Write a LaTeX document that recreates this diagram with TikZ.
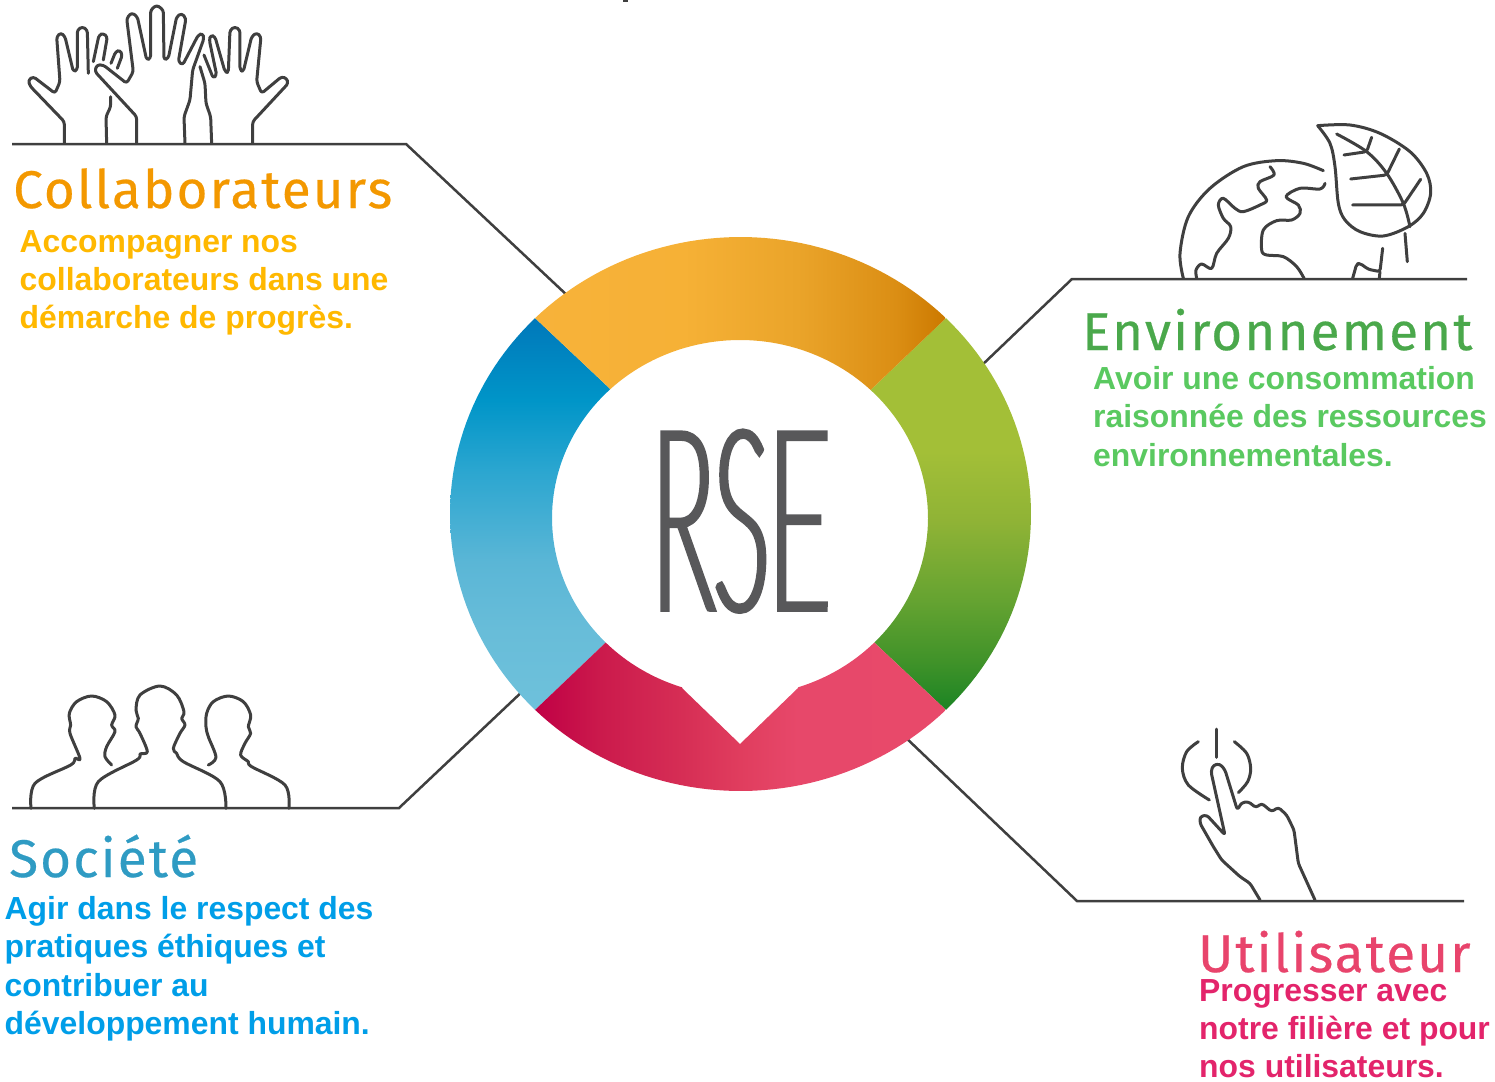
\documentclass[tikz,border=0pt]{standalone}
\usepackage{fontspec}
\setmainfont{Liberation Sans}
\newfontfamily\headfont[LetterSpace=4,FakeBold=0.4]{Fira Sans}
\newfontfamily\rsefont[FakeStretch=0.42,FakeBold=3.2]{Lato Hairline}
\definecolor{inkline}{HTML}{3F3F3F}
\definecolor{rsegray}{HTML}{58585A}
\definecolor{orhead}{HTML}{F39800}
\definecolor{orbody}{HTML}{FFB800}
\definecolor{grhead}{HTML}{4AA84B}
\definecolor{grbody}{HTML}{5AC960}
\definecolor{blhead}{HTML}{2F9BC3}
\definecolor{blbody}{HTML}{009EE8}
\definecolor{rdhead}{HTML}{E8446C}
\definecolor{rdbody}{HTML}{E3246B}
\definecolor{orA}{RGB}{247,178,58}\definecolor{orB}{RGB}{246,177,54}\definecolor{orC}{RGB}{234,164,42}\definecolor{orD}{RGB}{219,142,20}\definecolor{orE}{RGB}{204,121,0}
\definecolor{rdA}{RGB}{192,0,69}\definecolor{rdB}{RGB}{203,26,76}\definecolor{rdC}{RGB}{214,46,85}\definecolor{rdD}{RGB}{224,61,94}\definecolor{rdE}{RGB}{231,72,106}\definecolor{rdF}{RGB}{232,73,106}
\definecolor{blA}{RGB}{110,193,219}\definecolor{blB}{RGB}{104,189,217}\definecolor{blC}{RGB}{90,182,214}\definecolor{blD}{RGB}{43,166,208}\definecolor{blE}{RGB}{0,149,200}\definecolor{blF}{RGB}{0,120,186}
\definecolor{grA}{RGB}{27,132,36}\definecolor{grB}{RGB}{63,146,41}\definecolor{grC}{RGB}{101,163,49}\definecolor{grD}{RGB}{143,179,54}\definecolor{grE}{RGB}{163,191,55}
\pgfdeclarehorizontalshading{orshade}{100bp}{
  color(0bp)=(orA); color(25bp)=(orA); color(43bp)=(orB); color(57bp)=(orC); color(69bp)=(orD); color(75bp)=(orE); color(100bp)=(orE)}
\pgfdeclarehorizontalshading{rdshade}{100bp}{
  color(0bp)=(rdA); color(25bp)=(rdA); color(33bp)=(rdB); color(43bp)=(rdC); color(50bp)=(rdD); color(57bp)=(rdE); color(75bp)=(rdF); color(100bp)=(rdF)}
\pgfdeclareverticalshading{blshade}{100bp}{
  color(0bp)=(blA); color(25bp)=(blA); color(35bp)=(blB); color(44bp)=(blC); color(55.5bp)=(blD); color(64.5bp)=(blE); color(75bp)=(blF); color(100bp)=(blF)}
\pgfdeclareverticalshading{grshade}{100bp}{
  color(0bp)=(grA); color(25bp)=(grA); color(31bp)=(grB); color(39bp)=(grC); color(49bp)=(grD); color(58bp)=(grE); color(75bp)=(grE); color(100bp)=(grE)}
\tikzset{
  icon/.style={draw=inkline,line width=3pt,line cap=round,line join=round,rounded corners=2.8pt},
  curve/.style={draw=inkline,line width=3pt,line cap=round,line join=round,smooth,tension=0.55},
  leader/.style={draw=inkline,line width=2.5pt,line join=miter},
  head/.style={inner sep=0pt,anchor=base west,font=\headfont\fontsize{53}{53}\selectfont},
  body/.style={inner sep=0pt,anchor=north west,align=left,font=\bfseries\fontsize{31.9}{38.4}\selectfont},
}
\begin{document}
\begin{tikzpicture}[x=1pt,y=-1pt]
\useasboundingbox (0,0) rectangle (1495,1081);
\fill[inkline] (623,0) rectangle (628,2);
% leaders
\coordinate (ca1) at (12,144); \coordinate (ca2) at (406,144); \coordinate (ca3) at (570,298);
\coordinate (cb1) at (1467,279); \coordinate (cb2) at (1072,279); \coordinate (cb3) at (980,367);
\coordinate (cc1) at (12,808); \coordinate (cc2) at (399,808); \coordinate (cc3) at (526,688);
\coordinate (cd1) at (1464,901); \coordinate (cd2) at (1077,901); \coordinate (cd3) at (903,735);
\draw[leader] (ca1) -- (ca2) -- (ca3);
\draw[leader] (cb1) -- (cb2) -- (cb3);
\draw[leader] (cc1) -- (cc2) -- (cc3);
\draw[leader] (cd1) -- (cd2) -- (cd3);
% ring segments
\begin{scope}
 \clip plot[domain=225:135,samples=50] ({740.5+290.5*cos(\x)},{514-277*sin(\x)}) -- plot[domain=133.6:224.4,samples=50] ({740+188*cos(\x)},{518-178*sin(\x)}) -- cycle;
 \shade[shading=blshade] (440,318) rectangle (620,710);
\end{scope}
\begin{scope}
 \clip plot[domain=45:-45,samples=50] ({740.5+290.5*cos(\x)},{514-277*sin(\x)}) -- plot[domain=-44.4:46,samples=50] ({740+188*cos(\x)},{518-178*sin(\x)}) -- cycle;
 \shade[shading=grshade] (865,318) rectangle (1040,710);
\end{scope}
\begin{scope}
 \clip plot[domain=135:45,samples=50] ({740.5+290.5*cos(\x)},{514-277*sin(\x)}) -- plot[domain=46:133.6,samples=50] ({740+188*cos(\x)},{518-178*sin(\x)}) -- cycle;
 \shade[shading=orshade] (535,230) rectangle (945,395);
\end{scope}
\begin{scope}
 \clip plot[domain=225:315,samples=50] ({740.5+290.5*cos(\x)},{514-277*sin(\x)}) -- plot[domain=315.6:288,samples=20] ({740+188*cos(\x)},{518-178*sin(\x)}) -- (797.5,688.5) -- (740,744) -- (682.5,688.5) -- plot[domain=252:224.4,samples=20] ({740+188*cos(\x)},{518-178*sin(\x)}) -- cycle;
 \shade[shading=rdshade] (535,640) rectangle (945,800);
\end{scope}
% centre
\node[inner sep=0pt,anchor=base,text=rsegray,font=\rsefont\fontsize{248}{248}\selectfont] (rse) at (741,608) {RSE};
% hands
\begin{scope}[shift={(0,0)},x=0.3333pt,y=-0.3333pt]
\draw[icon] (193,430)--(193,365)--(90,258)--(85,240)--(100,230)--(165,280)--(180,245)--(170,110)--(183,98)--(195,110)--(220,215)--(232,210)--(232,90)--(247,80)--(262,90)--(265,220);
\draw[icon] (280,185)--(297,105)--(310,100)--(322,110)--(310,180);
\draw[icon] (333,190)--(347,155)--(360,150)--(367,165)--(352,205);
\draw[icon] (410,430)--(410,350)--(285,215)--(290,195)--(310,195)--(380,250)--(400,215)--(380,55)--(395,38)--(412,50)--(440,180)--(452,175)--(452,30)--(470,15)--(490,30)--(492,180)--(505,175)--(530,50)--(545,40)--(558,55)--(535,185)--(548,195)--(595,105)--(608,100)--(612,115)--(578,210)--(570,300)--(552,350)--(555,430);
\draw[icon] (320,430)--(318,350)--(332,320)--(332,290);
\draw[icon] (758,430)--(758,365)--(865,250)--(860,235)--(845,230)--(785,280)--(770,245)--(783,110)--(770,98)--(755,110)--(730,215)--(720,210)--(720,90)--(705,80)--(690,90)--(685,218)--(675,215)--(645,110)--(632,105)--(628,120)--(650,225)--(640,235)--(612,165);
\draw[icon] (635,430)--(632,350)--(618,310)--(615,250)--(600,200);
\end{scope}
% globe and leaf
\begin{scope}[shift={(1160,110)},x=0.3333pt,y=-0.3333pt]
\draw[curve] plot coordinates {(70,505)(60,430)(85,320)(150,235)(250,170)(350,152)(430,160)(490,182)};
\draw[curve] plot coordinates {(330,170)(342,195)(300,215)(295,235)(320,270)(300,285)(250,305)(225,295)(190,265)(175,285)(190,325)(212,350)(205,385)(170,430)(155,475)(125,462)(108,480)(110,505)};
\draw[curve] plot coordinates {(495,220)(480,237)(420,235)(378,260)(415,285)(420,310)(395,330)(350,332)(310,360)(305,420)(320,435)(370,440)(410,470)(432,505)};
\draw[icon] (578,505)--(590,462)--(600,460)--(625,478)--(660,485)--(668,415);
\draw[icon] (660,485)--(658,505);
\draw[curve] plot coordinates {(473,47)(570,45)(660,70)(750,125)(800,190)(812,250)(790,310)(745,350)(670,378)(600,365)(555,330)(535,280)(525,170)(510,100)(473,47)};
\draw[curve] plot coordinates {(530,72)(620,125)(680,190)(730,280)(750,350)};
\draw[curve] plot coordinates {(735,370)(742,455)};
\draw[icon] (552,135)--(620,125)--(635,82);
\draw[icon] (572,207)--(680,195)--(718,117);
\draw[icon] (578,285)--(730,285)--(782,208);
\end{scope}
% people
\begin{scope}[shift={(0,670)},x=0.3333pt,y=-0.3333pt]
\draw[curve] plot coordinates {(283,415)(295,335)(410,270)(420,252)(442,245)(420,190)(408,170)(415,145)(408,120)(420,75)(480,48)(530,75)(552,125)(545,145)(555,165)(540,190)(520,235)(530,250)(550,275)(660,335)(678,415)};
\draw[curve] plot coordinates {(93,415)(105,340)(212,285)(225,265)(240,265)(210,190)(212,165)(208,130)(230,95)(275,78)(320,95)(345,135)(335,165)(345,185)(320,230)(315,260)(335,285)};
\draw[curve] plot coordinates {(625,285)(648,262)(625,200)(618,170)(620,130)(640,95)(685,78)(730,95)(752,135)(745,170)(752,190)(735,220)(722,255)(745,275)(755,290)(855,345)(867,415)};
\end{scope}
% pressing hand
\begin{scope}[shift={(1150,720)},x=0.3333pt,y=-0.3333pt]
\draw[icon] (198,27)--(198,112);
\draw[curve] plot coordinates {(145,65)(110,95)(97,145)(115,195)(178,240)};
\draw[curve] plot coordinates {(253,65)(290,100)(302,145)(293,185)(265,218)};
\draw[icon] (330,540)--(300,490)--(270,470)--(215,420)--(190,380)--(150,310)--(150,290)--(170,285)--(225,345)--(183,155)--(190,135)--(210,132)--(225,150)--(262,270)--(275,248)--(295,245)--(318,263)--(335,250)--(365,275)--(385,262)--(410,285)--(432,330)--(445,430)--(495,540);
\end{scope}
% texts
\node[head,text=orhead] (h1) at (13,208) {Collaborateurs};
\node[body,text=orbody] (b1) at (19.5,230) {Accompagner nos\\collaborateurs dans une\\démarche de progrès.};
\node[head,text=grhead] (h2) at (1082,350) {Environnement};
\node[body,text=grbody] (b2) at (1093,366) {Avoir une consommation\\raisonnée des ressources\\environnementales.};
\node[head,text=blhead] (h3) at (9,877) {Société};
\node[body,text=blbody] (b3) at (4.5,896) {Agir dans le respect des\\pratiques éthiques et\\contribuer au\\développement humain.};
\node[head,text=rdhead] (h4) at (1198,972) {Utilisateur};
\node[body,text=rdbody] (b4) at (1199,979) {Progresser avec\\notre filière et pour\\nos utilisateurs.};
\end{tikzpicture}
\end{document}
